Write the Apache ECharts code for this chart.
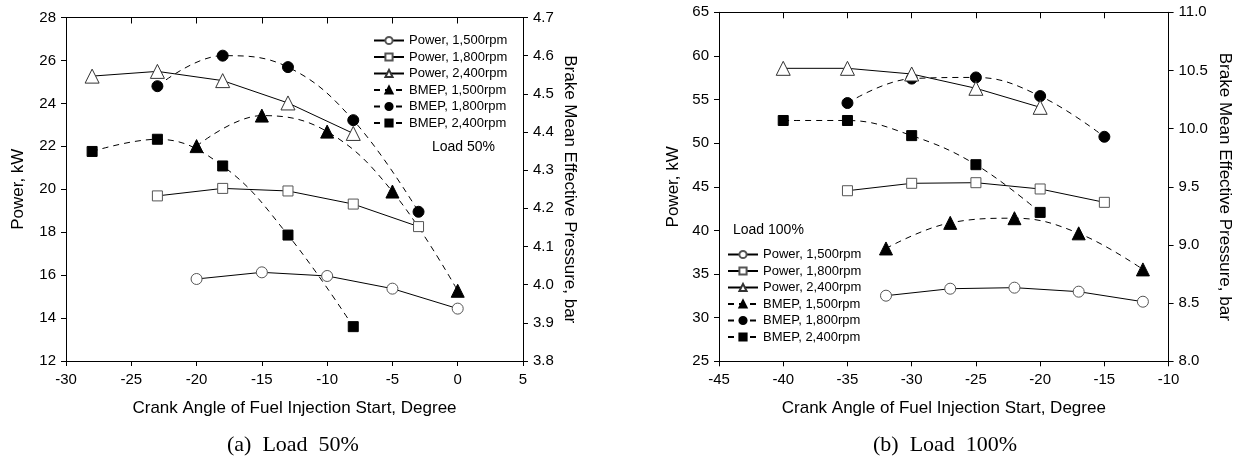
<!DOCTYPE html>
<html>
<head>
<meta charset="utf-8">
<script src="https://cdn.jsdelivr.net/npm/echarts@6/dist/echarts.min.js"></script>
<style>
	html, body { margin: 0; padding: 0; background: #fff; }
	#chart { width: 1240px; height: 461px; }
</style>
</head>
<body>
<div id="chart"></div>
<script>
// (a) Load 50%
var xA1500 = [-20, -15, -10, -5, 0];
var xA1800 = [-23, -18, -13, -8, -3];
var xA2400 = [-28, -23, -18, -13, -8];
var powA1500 = [15.82, 16.13, 15.96, 15.37, 14.44];
var powA1800 = [19.69, 20.04, 19.92, 19.31, 18.26];
var powA2400 = [25.27, 25.49, 25.06, 24.02, 22.60];
var bmepA1500 = [4.363, 4.443, 4.401, 4.244, 3.984];
var bmepA1800 = [4.52, 4.60, 4.57, 4.431, 4.191];
var bmepA2400 = [4.349, 4.381, 4.311, 4.130, 3.890];

// (b) Load 100%
var xB1500 = [-32, -27, -22, -17, -12];
var xB1800 = [-35, -30, -25, -20, -15];
var xB2400 = [-40, -35, -30, -25, -20];
var powB1500 = [32.52, 33.32, 33.44, 32.98, 31.83];
var powB1800 = [44.55, 45.40, 45.47, 44.75, 43.22];
var powB2400 = [58.58, 58.58, 57.93, 56.29, 54.11];
var bmepB1500 = [8.97, 9.19, 9.23, 9.10, 8.79];
var bmepB1800 = [10.22, 10.43, 10.44, 10.28, 9.93];
var bmepB2400 = [10.07, 10.07, 9.94, 9.69, 9.28];

var names = ['Power, 1,500rpm', 'Power, 1,800rpm', 'Power, 2,400rpm',
	'BMEP, 1,500rpm', 'BMEP, 1,800rpm', 'BMEP, 2,400rpm'];

var FONT = '"Liberation Sans", Arial, sans-serif';
var SERIF = '"Liberation Serif", "Times New Roman", serif';

function zip(xs, ys) {
	return xs.map(function (x, i) { return [x, ys[i]]; });
}

// marker look for each of the six curves
var looks = [
	{ symbol: 'circle', size: 11, fill: '#fff', border: '#555', dash: 'solid', smooth: false },
	{ symbol: 'rect', size: 10, fill: '#fff', border: '#555', dash: 'solid', smooth: false },
	{ symbol: 'triangle', size: 14, fill: '#fff', border: '#333', dash: 'solid', smooth: false },
	{ symbol: 'triangle', size: 13, fill: '#000', border: '#000', dash: [6, 5], smooth: 0.4 },
	{ symbol: 'circle', size: 11, fill: '#000', border: '#000', dash: [6, 5], smooth: 0.4 },
	{ symbol: 'rect', size: 10, fill: '#000', border: '#000', dash: [6, 5], smooth: 0.4 }
];

function makeSeries(idx, data, xi, yi) {
	var l = looks[idx];
	return {
		name: names[idx],
		type: 'line',
		xAxisIndex: xi,
		yAxisIndex: yi,
		data: data,
		smooth: l.smooth,
		symbol: l.symbol,
		symbolSize: l.size,
		showAllSymbol: true,
		lineStyle: { color: '#000', width: 1, type: l.dash },
		itemStyle: { color: l.fill, borderColor: l.border, borderWidth: 1 },
		emphasis: { disabled: true },
		z: idx < 3 ? 3 : 2
	};
}

function bottomAxis(gi, min, max) {
	return {
		type: 'value', gridIndex: gi, position: 'bottom',
		min: min, max: max, interval: 5,
		name: 'Crank Angle of Fuel Injection Start, Degree',
		nameLocation: 'middle', nameGap: 39,
		nameTextStyle: { fontFamily: FONT, fontSize: 17, color: '#000' },
		axisLine: { onZero: false, lineStyle: { color: '#000', width: 1 } },
		axisTick: { length: 5, lineStyle: { color: '#000' } },
		axisLabel: { fontFamily: FONT, fontSize: 15, color: '#000', margin: 11 },
		splitLine: { show: false }
	};
}

function topAxis(gi, min, max) {
	return {
		type: 'value', gridIndex: gi, position: 'top',
		min: min, max: max, interval: 5,
		axisLine: { onZero: false, lineStyle: { color: '#000', width: 1 } },
		axisTick: { inside: true, length: 6, lineStyle: { color: '#000' } },
		axisLabel: { show: false },
		splitLine: { show: false }
	};
}

function sideAxis(gi, pos, min, max, step, name, digits, gap) {
	return {
		type: 'value', gridIndex: gi, position: pos,
		min: min, max: max, interval: step,
		name: name, nameLocation: 'middle', nameGap: gap,
		nameRotate: pos === 'left' ? 90 : -90,
		nameTextStyle: { fontFamily: FONT, fontSize: 17, color: '#000' },
		axisLine: { show: true, onZero: false, lineStyle: { color: '#000', width: 1 } },
		axisTick: { show: true, length: 5, lineStyle: { color: '#000' } },
		axisLabel: {
			fontFamily: FONT, fontSize: 15, color: '#000', margin: 10,
			formatter: function (v) { return v.toFixed(digits); }
		},
		splitLine: { show: false }
	};
}

function legendAt(left, top) {
	return {
		orient: 'vertical', left: left, top: top,
		padding: 0,
		itemWidth: 30, itemHeight: 9, itemGap: 3.5,
		data: names,
		textStyle: { fontFamily: FONT, fontSize: 13, color: '#000' },
		selectedMode: false
	};
}

var option = {
	backgroundColor: '#fff',
	animation: false,
	grid: [
		{ left: 66, top: 17.5, width: 457, height: 343.5 },
		{ left: 719, top: 12.3, width: 449.6, height: 349 }
	],
	xAxis: [
		bottomAxis(0, -30, 5), topAxis(0, -30, 5),
		bottomAxis(1, -45, -10), topAxis(1, -45, -10)
	],
	yAxis: [
		sideAxis(0, 'left', 12, 28, 2, 'Power, kW', 0, 39.5),
		sideAxis(0, 'right', 3.8, 4.7, 0.1, 'Brake Mean Effective Pressure, bar', 1, 38.5),
		sideAxis(1, 'left', 25, 65, 5, 'Power, kW', 0, 37.5),
		sideAxis(1, 'right', 8, 11, 0.5, 'Brake Mean Effective Pressure, bar', 1, 48)
	],
	legend: [legendAt(373, 34), legendAt(727, 248)],
	series: [
		makeSeries(0, zip(xA1500, powA1500), 0, 0),
		makeSeries(1, zip(xA1800, powA1800), 0, 0),
		makeSeries(2, zip(xA2400, powA2400), 0, 0),
		makeSeries(3, zip(xA1500, bmepA1500), 0, 1),
		makeSeries(4, zip(xA1800, bmepA1800), 0, 1),
		makeSeries(5, zip(xA2400, bmepA2400), 0, 1),
		makeSeries(0, zip(xB1500, powB1500), 2, 2),
		makeSeries(1, zip(xB1800, powB1800), 2, 2),
		makeSeries(2, zip(xB2400, powB2400), 2, 2),
		makeSeries(3, zip(xB1500, bmepB1500), 2, 3),
		makeSeries(4, zip(xB1800, bmepB1800), 2, 3),
		makeSeries(5, zip(xB2400, bmepB2400), 2, 3)
	],
	graphic: [
		{ type: 'text', left: 432, top: 140, style: { text: 'Load 50%', font: '14px ' + FONT, fill: '#000' } },
		{ type: 'text', left: 733, top: 223, style: { text: 'Load 100%', font: '14px ' + FONT, fill: '#000' } },
		{ type: 'text', left: 227, top: 434, style: { text: '(a)  Load  50%', font: '22px ' + SERIF, fill: '#000' } },
		{ type: 'text', left: 873, top: 434, style: { text: '(b)  Load  100%', font: '22px ' + SERIF, fill: '#000' } }
	]
};

var myChart = echarts.init(document.getElementById('chart'));
myChart.setOption(option);
</script>
</body>
</html>
